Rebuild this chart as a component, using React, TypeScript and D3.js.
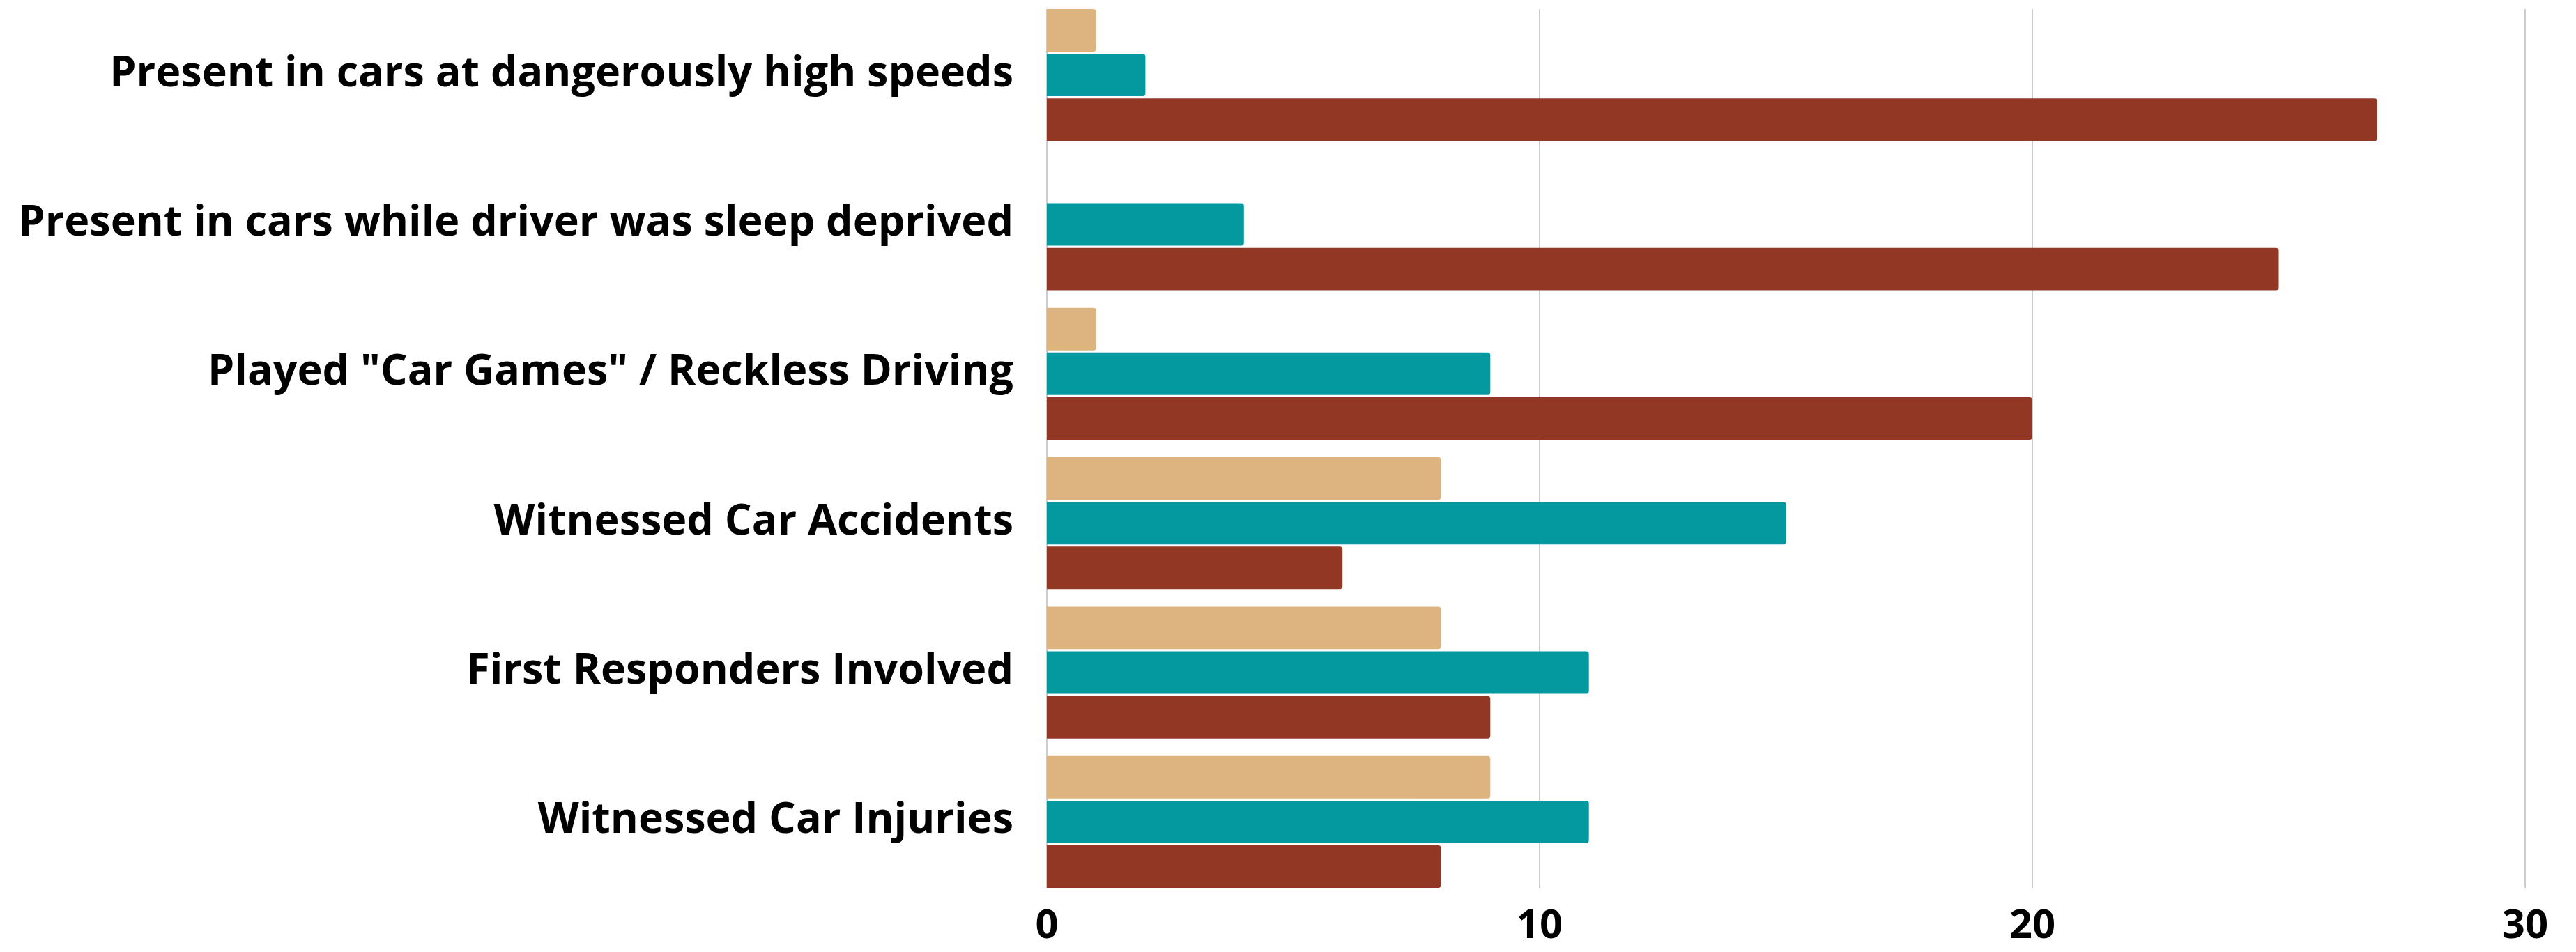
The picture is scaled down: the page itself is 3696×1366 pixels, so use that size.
import React from "react";
import * as d3 from "d3";

const categories = [
  "Present in cars at dangerously high speeds",
  "Present in cars while driver was sleep deprived",
  'Played "Car Games" / Reckless Driving',
  "Witnessed Car Accidents",
  "First Responders Involved",
  "Witnessed Car Injuries",
];

const seriesNames = ["tan", "teal", "brown"];
const tanValues = [1, 0, 1, 8, 8, 9];
const tealValues = [2, 4, 9, 15, 11, 11];
const brownValues = [27, 25, 20, 6, 9, 8];
const xTicks = [0, 10, 20, 30];

const colors: Record<string, string> = {
  tan: "#ddb480",
  teal: "#03999e",
  brown: "#933725",
};

const width = 3696;
const height = 1366;
const margin = { top: 13, right: 73, bottom: 92, left: 1502 };

const font = "'Open Sans', Lato, sans-serif";

// rect with only the right corners rounded
const barPath = (x0: number, x1: number, y: number, h: number, r: number) => {
  const w = x1 - x0;
  if (w <= 0) return "";
  const rr = Math.min(r, w, h / 2);
  return `M${x0},${y}H${x1 - rr}Q${x1},${y} ${x1},${y + rr}V${y + h - rr}Q${x1},${y + h} ${x1 - rr},${y + h}H${x0}Z`;
};

export default function App() {
  const plotW = width - margin.left - margin.right;
  const plotH = height - margin.top - margin.bottom;

  const values: Record<string, number[]> = {
    tan: tanValues,
    teal: tealValues,
    brown: brownValues,
  };

  const x = d3.scaleLinear().domain([0, 30]).range([0, plotW]);
  const y0 = d3
    .scaleBand<string>()
    .domain(categories)
    .range([0, plotH])
    .paddingInner(0.117)
    .paddingOuter(0);
  const y1 = d3
    .scaleBand<string>()
    .domain(seriesNames)
    .range([0, y0.bandwidth()])
    .paddingInner(0.05)
    .paddingOuter(0);

  return (
    <svg
      width={width}
      height={height}
      style={{ position: "absolute", left: 0, top: 0, display: "block", background: "#fff" }}
    >
      <g transform={`translate(${margin.left},${margin.top})`}>
        {/* grid */}
        {xTicks.map((t) => (
          <line
            key={"g" + t}
            x1={x(t)}
            x2={x(t)}
            y1={0}
            y2={plotH}
            stroke="#cccccc"
            strokeWidth={2}
          />
        ))}

        {/* bars */}
        {categories.map((c, i) => (
          <g key={c} transform={`translate(0,${y0(c)})`}>
            {seriesNames.map((s) => (
              <path
                key={s}
                d={barPath(x(0), x(values[s][i]), y1(s)!, y1.bandwidth(), 4)}
                fill={colors[s]}
              />
            ))}
          </g>
        ))}

        {/* category labels */}
        {categories.map((c) => (
          <text
            key={"l" + c}
            x={-48}
            y={y0(c)! + y0.bandwidth() / 2 + 16}
            textAnchor="end"
            fontFamily={font}
            fontWeight={700}
            fontSize={61}
            fill="#000"
          >
            {c}
          </text>
        ))}

        {/* x tick labels */}
        {xTicks.map((t) => (
          <text
            key={"t" + t}
            x={x(t)}
            y={plotH + 72}
            textAnchor="middle"
            fontFamily={font}
            fontWeight={700}
            fontSize={58}
            fill="#000"
          >
            {t}
          </text>
        ))}
      </g>
    </svg>
  );
}
